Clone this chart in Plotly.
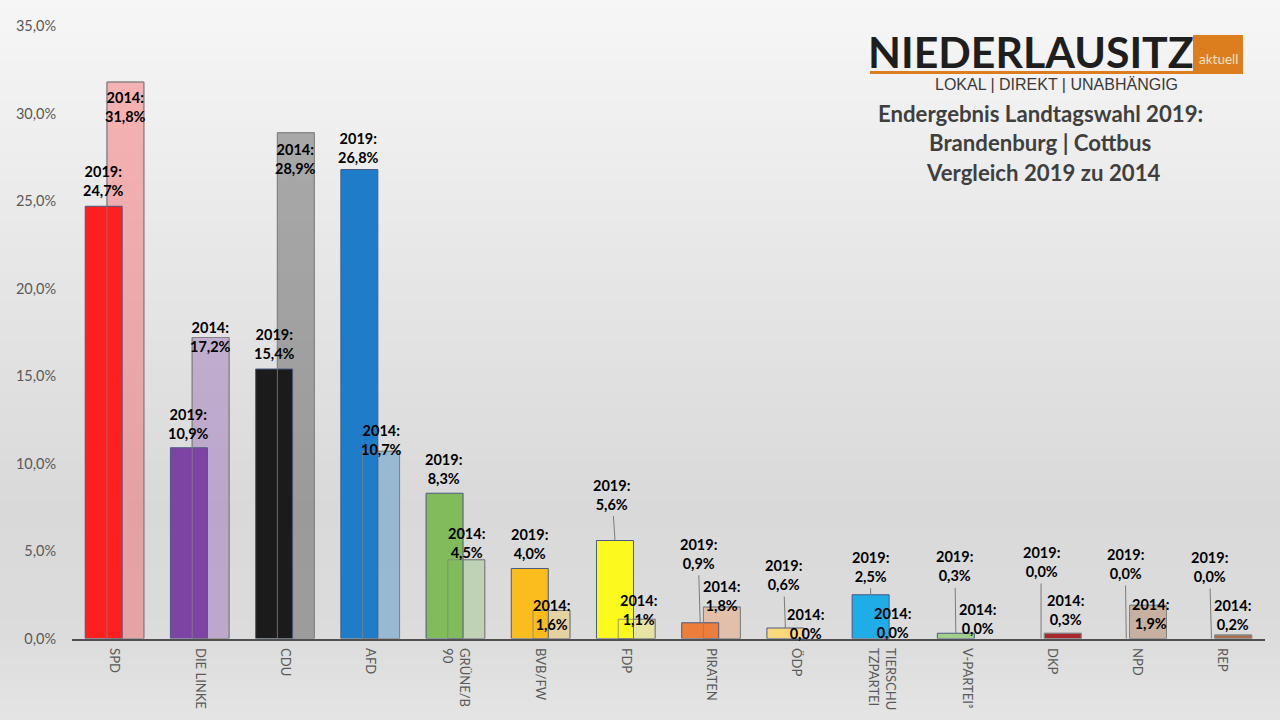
import plotly.graph_objects as go

parties = ["SPD", "DIE LINKE", "CDU", "AFD", "GRÜNE/B<br>90", "BVB/FW", "FDP", "PIRATEN", "ÖDP",
           "TIERSCHU<br>TZPARTEI", "V-PARTEI³", "DKP", "NPD", "REP"]
votes_2019 = [24.7, 10.9, 15.4, 26.8, 8.3, 4.0, 5.6, 0.9, 0.6, 2.5, 0.3, 0.0, 0.0, 0.0]
votes_2014 = [31.8, 17.2, 28.9, 10.7, 4.5, 1.6, 1.1, 1.8, 0.0, 0.0, 0.0, 0.3, 1.9, 0.2]
colors_2019 = ["#fe2020", "#7d44a6", "#1b1b1b", "#1f7cc8", "#82bb5c", "#fbbd1e", "#fbf91e", "#ed7d3a",
               "#fbd77c", "#1fade8", "#a3cf8c", "#a02020", "#c8a080", "#a05a3a"]
colors_2014 = ["rgba(254,32,32,0.3)", "rgba(125,68,166,0.33)", "rgba(27,27,27,0.33)", "rgba(31,124,200,0.36)",
               "rgba(130,187,92,0.3)", "rgba(251,189,30,0.3)", "rgba(251,249,30,0.3)", "rgba(237,125,58,0.3)",
               "rgba(251,215,124,0.3)", "rgba(31,173,232,0.3)", "rgba(163,207,140,0.3)",
               "#a8282c", "#c8b0a0", "#a87050"]
y_ticks = [0, 5, 10, 15, 20, 25, 30, 35]
tick_labels = ["0,0%", "5,0%", "10,0%", "15,0%", "20,0%", "25,0%", "30,0%", "35,0%"]

# label centre offset (px) from the top-centre of its bar
off_2019 = [(0, -25), (0, -24), (0, -25), (-1, -21.5), (-1, -24), (0, -24.5), (-3, -46), (-2, -69),
            (-2, -53), (0, -28), (-1, -67), (0, -76.5), (-1, -74.5), (-2, -71.5)]
off_2014 = [(0, 25.5), (0, -1), (0, 26), (0, -11), (0, -17), (0, 4.5), (2, -9), (0, -11.5),
            (-2, -15), (0, -15.5), (0, -20), (3, -23), (2, 9), (-1, -20.5)]
leader_2019 = [False] * 6 + [True] * 8

x = list(range(len(parties)))
W = 0.434
OFF19, OFF14 = -0.345, -0.09


def edge_widths(values):
    return [1 if v > 0 else 0 for v in values]


fig = go.Figure()
fig.add_bar(x=x, y=votes_2014, width=W, offset=OFF14,
            marker=dict(color=colors_2014, line=dict(color="#858585", width=edge_widths(votes_2014))))
fig.add_bar(x=x, y=votes_2019, width=W, offset=OFF19,
            marker=dict(color=colors_2019, line=dict(color="#4a5a80", width=edge_widths(votes_2019))))
fig.add_bar(x=x, y=votes_2014, width=W, offset=OFF14,
            marker=dict(color="rgba(0,0,0,0)", line=dict(color="rgba(130,130,130,0.8)", width=edge_widths(votes_2014))))

# background gradient
stops = [(0, 246), (0.4, 229), (0.7, 217), (0.88, 220), (1, 229)]
shapes = []
N = 72
for i in range(N):
    t = i / N
    for (a, va), (b, vb) in zip(stops, stops[1:]):
        if a <= t <= b:
            v = round(va + (vb - va) * (t - a) / (b - a))
            break
    shapes.append(dict(type="rect", xref="paper", yref="paper", x0=0, x1=1, y0=max(0, 1 - (i + 1.05) / N), y1=1 - i / N,
                       fillcolor=f"rgb({v},{v},{v})", line_width=0, layer="below"))

ann = []


def label(i, year, val, dx, dy, leader=False):
    cx = i + (OFF19 if year == 2019 else OFF14) + W / 2
    text = f"<b>{year}:<br>{val:.1f}%</b>".replace(".", ",")
    ann.append(dict(x=cx, y=val, xref="x", yref="y", text=text, showarrow=True, ax=dx, ay=dy,
                    arrowhead=0, arrowwidth=1, standoff=0, borderpad=3,
                    arrowcolor="#7a7a7a" if leader else "rgba(0,0,0,0)",
                    font=dict(family="Lato", size=14.5, color="#000"), align="center"))


for i in x:
    label(i, 2019, votes_2019[i], *off_2019[i], leader=leader_2019[i])
    label(i, 2014, votes_2014[i], *off_2014[i])


def txt(s, px, py, size, color, family="Lato", bold=False):
    ann.append(dict(x=px / 1280, y=1 - py / 720, xref="paper", yref="paper", text=f"<b>{s}</b>" if bold else s,
                    showarrow=False, font=dict(family=family, size=size, color=color),
                    xanchor="center", yanchor="middle"))


txt("NIEDERLAUSITZ", 1031, 52, 42.8, "#1e1e1e", bold=True)
txt("LOKAL | DIREKT | UNABHÄNGIG", 1056, 84, 16, "#3a3a3a", "Liberation Sans")
txt("Endergebnis Landtagswahl 2019:", 1040.5, 113, 22.2, "#3f3f3f", bold=True)
txt("Brandenburg | Cottbus", 1040, 143, 22.2, "#3f3f3f", bold=True)
txt("Vergleich 2019 zu 2014", 1043.5, 172, 22.2, "#3f3f3f", bold=True)
txt("aktuell", 1218, 59, 13.5, "#f3e2c8")

logo_shapes = [
    dict(type="rect", xref="paper", yref="paper", x0=1193 / 1280, x1=1243 / 1280, y0=1 - 74 / 720, y1=1 - 35 / 720,
         fillcolor="#dc7d1e", line_width=0, layer="below"),
    dict(type="rect", xref="paper", yref="paper", x0=870 / 1280, x1=1243 / 1280, y0=1 - 74 / 720, y1=1 - 71 / 720,
         fillcolor="#dc7d1e", line_width=0, layer="below"),
]

fig.update_layout(
    width=1280, height=720, barmode="overlay", showlegend=False, paper_bgcolor="#dedede", plot_bgcolor="rgba(0,0,0,0)",
    margin=dict(l=0, r=0, t=0, b=0, autoexpand=False), font=dict(family="Lato", color="#595959"),
    shapes=shapes + logo_shapes, annotations=ann,
    xaxis=dict(domain=[72 / 1280, 1265 / 1280], range=[-0.5, 13.5], tickmode="array", tickvals=x, ticktext=parties,
               tickangle=90, showgrid=False, showline=True, linecolor="#505050", linewidth=2,
               ticks="outside", ticklen=5, tickcolor="rgba(0,0,0,0)", tickfont=dict(size=13, color="#595959")),
    yaxis=dict(domain=[1 - 638.5 / 720, 1 - 26 / 720], range=[0, 35], tickvals=y_ticks, ticktext=tick_labels,
               showgrid=False, zeroline=False, showline=False, ticks="outside", ticklen=12,
               tickcolor="rgba(0,0,0,0)", tickfont=dict(size=14.5, color="#595959")),
)
fig.write_html("out.html", config={"displayModeBar": False},
               post_script="document.body.style.margin='0';document.body.style.overflow='hidden';")
